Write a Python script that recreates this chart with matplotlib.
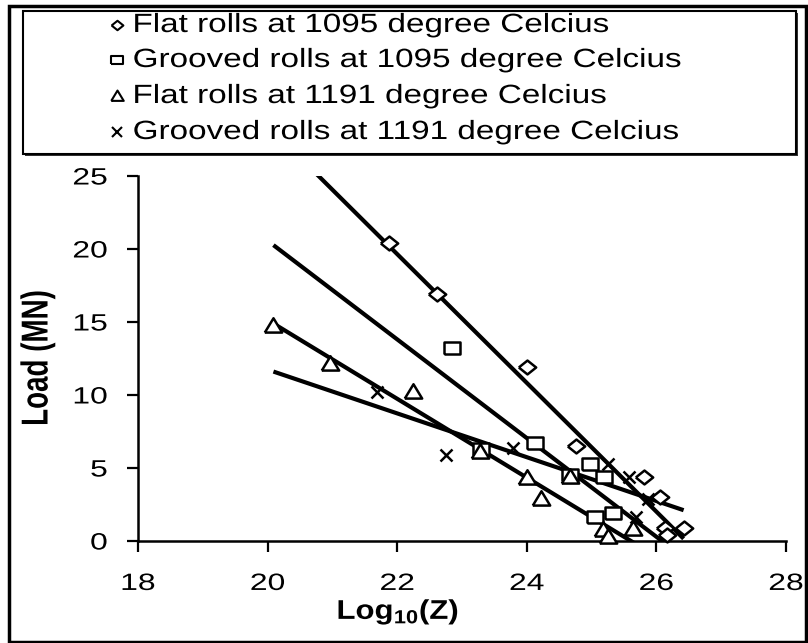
import matplotlib
matplotlib.use("Agg")
import matplotlib.pyplot as plt
from matplotlib.patches import Rectangle
from matplotlib.lines import Line2D
from matplotlib.patheffects import AbstractPathEffect
from matplotlib.transforms import Affine2D
import numpy as np

plt.rcParams['font.family'] = ['Liberation Sans', 'DejaVu Sans']
plt.rcParams['mathtext.fontset'] = 'custom'
plt.rcParams['mathtext.rm'] = 'Liberation Sans'
plt.rcParams['mathtext.bf'] = 'Liberation Sans:bold'

# ---- data ----
flat_1095_x = [21.87, 22.62, 24.0, 24.76, 25.81, 26.06, 26.13, 26.16, 26.42]
flat_1095_y = [20.4, 16.9, 11.9, 6.5, 4.4, 3.0, 0.9, 0.4, 0.9]
groove_1095_x = [22.84, 23.3, 24.13, 24.67, 24.98, 25.19, 25.06, 25.33]
groove_1095_y = [13.2, 6.3, 6.7, 4.5, 5.3, 4.4, 1.65, 1.9]
flat_1191_x = [20.09, 20.97, 22.24, 23.28, 24.01, 24.22, 24.67, 25.17, 25.25, 25.64]
flat_1191_y = [14.7, 12.1, 10.2, 6.1, 4.3, 2.9, 4.4, 0.75, 0.3, 0.8]
groove_1191_x = [21.69, 22.76, 23.78, 25.25, 25.58, 25.87, 25.69]
groove_1191_y = [10.2, 5.9, 6.4, 5.3, 4.4, 2.9, 1.65]

# trend lines (slope, intercept), drawn over x range
trend_slope = [-4.41, -3.38, -2.70, -1.50]
trend_intercept = [116.67, 88.17, 69.14, 41.74]
trend_x = [20.09, 26.42]

labels = ["Flat rolls at 1095 degree Celcius",
          "Grooved rolls at 1095 degree Celcius",
          "Flat rolls at 1191 degree Celcius",
          "Grooved rolls at 1191 degree Celcius"]
x_ticks = [18, 20, 22, 24, 26, 28]
y_ticks = [0, 5, 10, 15, 20, 25]

SX = 1.35  # the reference picture is horizontally stretched


class HStretch(AbstractPathEffect):
    """Stretch rendered text horizontally (display space) about an anchor."""
    def __init__(self, sx=SX, anchor='center'):
        super().__init__()
        self.sx = sx
        self.anchor = anchor

    def draw_path(self, renderer, gc, tpath, affine, rgbFace=None):
        ext = tpath.transformed(affine).get_extents()
        if self.anchor == 'left':
            a = ext.x0
        elif self.anchor == 'right':
            a = ext.x1
        else:
            a = 0.5 * (ext.x0 + ext.x1)
        t = affine + Affine2D().translate(-a, 0).scale(self.sx, 1).translate(a, 0)
        renderer.draw_path(gc, tpath, t, rgbFace)


W, H = 808, 643
fig = plt.figure(figsize=(W / 100, H / 100), dpi=100)


def fx(px):
    return px / W


def fy(py):
    return 1 - py / H


ax = fig.add_axes([fx(138), fy(541), fx(786) - fx(138), fy(176) - fy(541)])
ax.set_xlim(18, 28)
ax.set_ylim(0, 25)
ax.spines['top'].set_visible(False)
ax.spines['right'].set_visible(False)
for s in ['left', 'bottom']:
    ax.spines[s].set_linewidth(1.8)
ax.set_xticks(x_ticks)
ax.set_yticks(y_ticks)
ax.tick_params(direction='out', length=8, width=1.6, labelsize=17)
ax.tick_params(axis='y', pad=14)
ax.tick_params(axis='x', pad=15)
for t in ax.get_xticklabels():
    t.set_path_effects([HStretch(anchor='center')])
for t in ax.get_yticklabels():
    t.set_path_effects([HStretch(anchor='right')])

# custom horizontally wide markers (reference is stretched)
diamond = [(-1.0, 0), (0, 0.8), (1.0, 0), (0, -0.8), (-1.0, 0)]
square = [(-1.0, -0.73), (1.0, -0.73), (1.0, 0.73), (-1.0, 0.73), (-1.0, -0.73)]
triangle = [(-1.0, -0.7), (1.0, -0.7), (0, 0.95), (-1.0, -0.7)]

series = [
    (flat_1095_x, flat_1095_y, dict(marker=diamond, ms=12.5, mfc='white', mec='black', mew=1.8)),
    (groove_1095_x, groove_1095_y, dict(marker=square, ms=11, mfc='white', mec='black', mew=1.8)),
    (flat_1191_x, flat_1191_y, dict(marker=triangle, ms=12.5, mfc='white', mec='black', mew=1.8)),
    (groove_1191_x, groove_1191_y, dict(marker='x', ms=9, mec='black', mew=1.8)),
]
for (xs, ys, kw) in series:
    ax.plot(xs, ys, ls='none', clip_on=False, zorder=3, **kw)

xx = np.array(trend_x)
for m, b in zip(trend_slope, trend_intercept):
    ax.plot(xx, m * xx + b, color='black', lw=3.0, zorder=2, solid_capstyle='butt')

xl = fig.text(fx(398), fy(612), r"Log$_{\mathbf{10}}$(Z)", fontsize=19.5, fontweight='bold',
              ha='center', va='center')
xl.set_path_effects([HStretch(sx=1.15, anchor='center')])
yl = fig.text(fx(38), fy(358), "Load (MN)", fontsize=20, fontweight='bold',
              ha='center', va='center', rotation=90)
yl.set_path_effects([HStretch(anchor='center')])

# outer border
fig.patches.append(Rectangle((fx(9), fy(642)), fx(806) - fx(9), fy(6) - fy(642),
                             transform=fig.transFigure, fill=False, lw=2.5, ec='black'))
# legend box with shadow
fig.patches.append(Rectangle((fx(25), fy(156)), fx(798) - fx(25), fy(13) - fy(156),
                             transform=fig.transFigure, fill=True, fc='#333333', lw=0))
fig.patches.append(Rectangle((fx(23), fy(154)), fx(796) - fx(23), fy(11) - fy(154),
                             transform=fig.transFigure, fill=True, fc='white', lw=1.5, ec='black'))

leg_markers = [dict(marker=diamond, ms=8.5, mfc='white', mec='black', mew=1.5),
               dict(marker=square, ms=8, mfc='white', mec='black', mew=1.5),
               dict(marker=triangle, ms=9, mfc='white', mec='black', mew=1.5),
               dict(marker='x', ms=6.5, mec='black', mew=1.5)]
row_y = [25, 60, 96, 132]
for lab, kw, ry in zip(labels, leg_markers, row_y):
    fig.add_artist(Line2D([fx(117)], [fy(ry)], transform=fig.transFigure, ls='none', **kw))
    tt = fig.text(fx(133), fy(ry), lab, fontsize=19, va='center', ha='left')
    tt.set_path_effects([HStretch(sx=1.26, anchor='left')])

fig.savefig("out.png", dpi=100)
